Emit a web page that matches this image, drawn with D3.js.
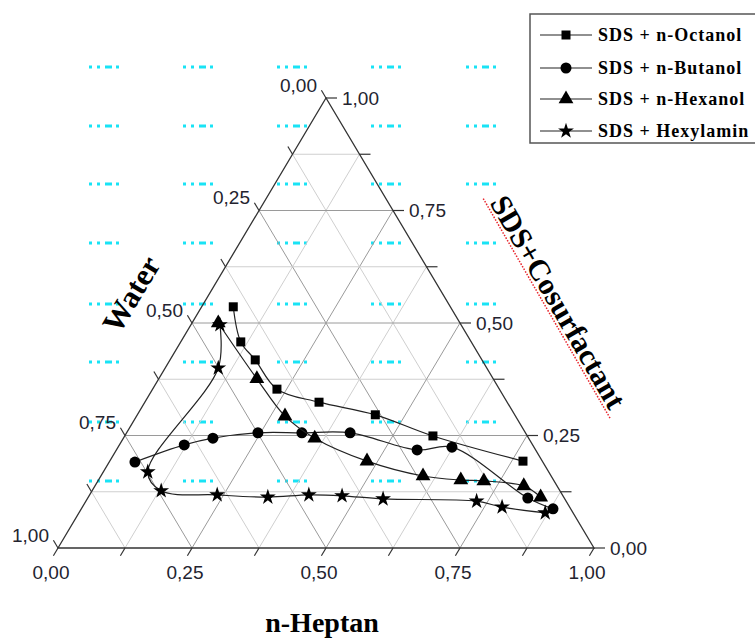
<!DOCTYPE html>
<html>
<head>
<meta charset="utf-8">
<script src="https://cdn.jsdelivr.net/npm/d3@7"></script>
<style>
  body { margin: 0; background: #fff; }
  svg { display: block; }
</style>
</head>
<body>
<script>
'use strict';

// ternary points as [n-heptan, SDS+cosurfactant]; water = 1 - both
const octanol = [[0.059, 0.536], [0.112, 0.458], [0.159, 0.418], [0.232, 0.353], [0.325, 0.324],
                 [0.444, 0.296], [0.575, 0.249], [0.771, 0.193]];
const butanol = [[0.048, 0.191], [0.121, 0.229], [0.167, 0.244], [0.245, 0.256], [0.327, 0.256],
                 [0.417, 0.256], [0.561, 0.218], [0.623, 0.224], [0.821, 0.111], [0.880, 0.087]];
const hexanol = [[0.049, 0.500], [0.183, 0.376], [0.277, 0.293], [0.357, 0.244], [0.480, 0.193],
                 [0.601, 0.160], [0.676, 0.151], [0.720, 0.149], [0.800, 0.138], [0.844, 0.113]];
const hexylamin = [[0.054, 0.496], [0.099, 0.400], [0.083, 0.169], [0.129, 0.127], [0.238, 0.118],
                   [0.335, 0.113], [0.409, 0.118], [0.472, 0.116], [0.552, 0.109], [0.729, 0.104],
                   [0.783, 0.091], [0.870, 0.078]];

const seriesNames = ["SDS + n-Octanol", "SDS + n-Butanol", "SDS + n-Hexanol", "SDS + Hexylamin"];
const tickValues = [0, 0.25, 0.5, 0.75, 1];
const tickLabels = ["0,00", "0,25", "0,50", "0,75", "1,00"];

const svg = d3.select("body").append("svg")
    .attr("width", 755)
    .attr("height", 638);

// triangle frame: bottom-left water, bottom-right heptan, top SDS
const x = d3.scaleLinear().domain([0, 1]).range([58, 594]);
const y = d3.scaleLinear().domain([0, 1]).range([548, 98]);
function proj(h, s) { return [x(h + s / 2), y(s)]; }

// cyan dotted bits in the background
const cyanCols = [104, 198, 292, 386, 481];
const cyanRows = [67, 126, 184, 243, 304, 362, 422, 481];
const bg = svg.append("g");
cyanRows.forEach(function(r) {
    cyanCols.forEach(function(c) {
        bg.append("line")
            .attr("x1", c - 15).attr("x2", c + 15)
            .attr("y1", r).attr("y2", r)
            .attr("stroke", "#19e3f5")
            .attr("stroke-width", 3)
            .attr("stroke-dasharray", "3,5,3,5,7,4,3");
    });
});

// grid lines
const grid = svg.append("g");
d3.range(1, 8).forEach(function(i) {
    let v = i / 8;
    let major = i % 2 === 0;
    let col = major ? "#9a9a9a" : "#cfcfcf";
    let lines = [
        [proj(0, v), proj(1 - v, v)],        // constant SDS
        [proj(v, 0), proj(v, 1 - v)],        // constant heptan
        [proj(0, 1 - v), proj(1 - v, 0)]     // constant water
    ];
    lines.forEach(function(l) {
        grid.append("line")
            .attr("x1", l[0][0]).attr("y1", l[0][1])
            .attr("x2", l[1][0]).attr("y2", l[1][1])
            .attr("stroke", col)
            .attr("stroke-width", 1);
    });
});

// frame
const A = proj(0, 1), L = proj(0, 0), R = proj(1, 0);
svg.append("path")
    .attr("d", "M" + L + "L" + R + "L" + A + "Z")
    .attr("fill", "none")
    .attr("stroke", "#333")
    .attr("stroke-width", 1.3);

// ticks
const axes = svg.append("g").attr("stroke", "#333").attr("stroke-width", 1.2);
const tlen = 9;
function unit(p, q) {
    let dx = q[0] - p[0], dy = q[1] - p[1], d = Math.sqrt(dx * dx + dy * dy);
    return [dx / d, dy / d];
}
const dirLeft = unit(R, A);    // water ticks
const dirBottom = unit(A, L);  // heptan ticks
d3.range(0, 9).forEach(function(i) {
    let v = i / 8;
    // bottom (heptan)
    let pb = proj(v, 0);
    axes.append("line").attr("x1", pb[0]).attr("y1", pb[1])
        .attr("x2", pb[0] + dirBottom[0] * tlen).attr("y2", pb[1] + dirBottom[1] * tlen);
    // right (SDS)
    let pr = proj(1 - v, v);
    axes.append("line").attr("x1", pr[0]).attr("y1", pr[1])
        .attr("x2", pr[0] + tlen + 2).attr("y2", pr[1]);
    // left (water)
    let pl = proj(0, 1 - v);
    axes.append("line").attr("x1", pl[0]).attr("y1", pl[1])
        .attr("x2", pl[0] + dirLeft[0] * tlen).attr("y2", pl[1] + dirLeft[1] * tlen);
});

const lab = svg.append("g")
    .attr("font-family", "'Liberation Sans', Arial, sans-serif")
    .attr("font-size", 19)
    .attr("fill", "#23232f");
tickValues.forEach(function(v, i) {
    let pb = proj(v, 0);
    lab.append("text").attr("x", pb[0] - 7).attr("y", pb[1] + 24)
        .attr("text-anchor", "middle").attr("dominant-baseline", "central")
        .text(tickLabels[i]);
    let pr = proj(1 - v, v);
    lab.append("text").attr("x", pr[0] + 16).attr("y", pr[1])
        .attr("dominant-baseline", "central")
        .text(tickLabels[i]);
    let pl = proj(0, 1 - v);
    lab.append("text").attr("x", pl[0] - 9).attr("y", pl[1] - 13)
        .attr("text-anchor", "end").attr("dominant-baseline", "central")
        .text(tickLabels[i]);
});

// axis titles
const serif = "'Liberation Serif', 'Times New Roman', serif";
svg.append("text")
    .attr("x", 322).attr("y", 632)
    .attr("text-anchor", "middle")
    .attr("font-family", serif).attr("font-weight", "bold").attr("font-size", 28)
    .text("n-Heptan");

svg.append("text")
    .attr("transform", "translate(131,294) rotate(-59)")
    .attr("text-anchor", "middle").attr("dy", "0.35em")
    .attr("font-family", serif).attr("font-weight", "bold").attr("font-size", 31)
    .text("Water");

let sdsTitle = svg.append("g").attr("transform", "translate(558,302) rotate(60)");
sdsTitle.append("line")
    .attr("x1", -127).attr("x2", 127).attr("y1", 13).attr("y2", 13)
    .attr("stroke", "#e8232a").attr("stroke-width", 1.5)
    .attr("stroke-dasharray", "1.5,1.5");
sdsTitle.append("text")
    .attr("x", 0).attr("y", 10)
    .attr("text-anchor", "middle")
    .attr("font-family", serif).attr("font-weight", "bold").attr("font-size", 30)
    .text("SDS+Cosurfactant");

// data series
const allSeries = [octanol, butanol, hexanol, hexylamin];
const symbols = [
    d3.symbol().type(d3.symbolSquare).size(81),
    d3.symbol().type(d3.symbolCircle).size(95),
    d3.symbol().type(d3.symbolTriangle).size(95),
    d3.symbol().type(d3.symbolStar).size(78)
];
const line = d3.line()
    .x(function(d) { return proj(d[0], d[1])[0]; })
    .y(function(d) { return proj(d[0], d[1])[1]; })
    .curve(d3.curveCatmullRom.alpha(0.5));

allSeries.forEach(function(data, k) {
    let g = svg.append("g");
    g.append("path")
        .attr("d", line(data))
        .attr("fill", "none")
        .attr("stroke", "#222")
        .attr("stroke-width", 1.2);
    g.selectAll("path.pt")
        .data(data)
        .enter()
        .append("path")
        .attr("class", "pt")
        .attr("transform", function(d) { return "translate(" + proj(d[0], d[1]) + ")"; })
        .attr("d", symbols[k])
        .attr("fill", "#000");
});

// legend
const legend = svg.append("g");
legend.append("rect")
    .attr("x", 530).attr("y", 14)
    .attr("width", 240).attr("height", 129)
    .attr("fill", "#fff")
    .attr("stroke", "#555")
    .attr("stroke-width", 1.5);
const legendRows = [35, 68, 99, 131];
seriesNames.forEach(function(name, k) {
    let ly = legendRows[k];
    legend.append("line")
        .attr("x1", 540).attr("x2", 592).attr("y1", ly).attr("y2", ly)
        .attr("stroke", "#222").attr("stroke-width", 1.2);
    legend.append("path")
        .attr("transform", "translate(566," + ly + ")")
        .attr("d", symbols[k])
        .attr("fill", "#000");
    legend.append("text")
        .attr("x", 598).attr("y", ly)
        .attr("dominant-baseline", "central")
        .attr("font-family", serif).attr("font-weight", "bold").attr("font-size", 18)
        .attr("letter-spacing", 1)
        .text(name);
});
</script>
</body>
</html>
